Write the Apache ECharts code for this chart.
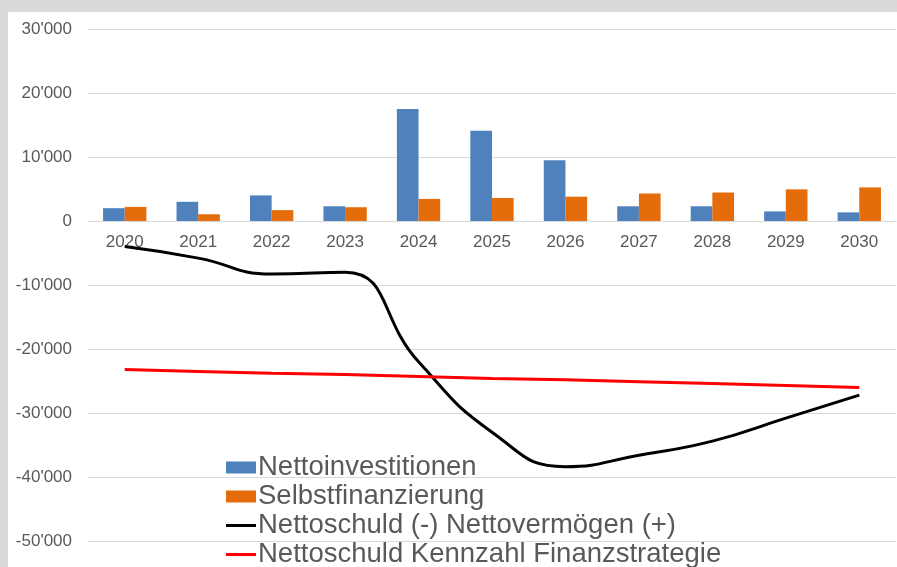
<!DOCTYPE html>
<html>
<head>
<meta charset="utf-8">
<script src="https://cdn.jsdelivr.net/npm/echarts@6/dist/echarts.min.js"></script>
<style>
  html, body { margin: 0; padding: 0; background: #d9d9d9; }
  #main { position: absolute; left: 8px; top: 12px; width: 889px; height: 555px; background: #fff; }
</style>
</head>
<body>
<div id="main"></div>
<script>
// Jahre
const categories = ['2020', '2021', '2022', '2023', '2024', '2025', '2026', '2027', '2028', '2029', '2030']
// Balken
const nettoinvestitionen = [2000, 3000, 4000, 2300, 17500, 14100, 9500, 2300, 2300, 1500, 1350]
const selbstfinanzierung = [2200, 1050, 1700, 2150, 3450, 3600, 3800, 4300, 4450, 4950, 5250]
// Linien
const nettoschuld = [-4000, -5800, -8300, -8000, -22000, -33000, -38400, -36600, -34400, -30800, -27200]
const kennzahl = [-23200, -23500, -23800, -24000, -24300, -24600, -24800, -25100, -25400, -25700, -26000]

const textColor = '#595959'
const fontFamily = '"Liberation Sans", Arial, sans-serif'
// Linien-Symbol in der Legende (3px hoch, mittig in 30x12)
const lineIcon = 'path://M0,0h0.01v0.01h-0.01z M0,4.5h30v3h-30z M29.99,11.99h0.01v0.01h-0.01z'

// Tausendertrennzeichen mit Apostroph
function fmt (v) {
  const s = String(Math.abs(v)).replace(/\B(?=(\d{3})+(?!\d))/g, "'")
  return (v < 0 ? '-' : '') + s
}

const myChart = echarts.init(document.getElementById('main'))

const options = {
  animation: false,
  textStyle: { fontFamily: fontFamily },
  grid: {
    left: 80,
    right: 1,
    top: 17,
    bottom: 26
  },
  legend: {
    orient: 'vertical',
    left: 218,
    top: 441,
    height: 130,
    padding: 0,
    itemWidth: 30,
    itemHeight: 12,
    itemGap: 0,
    textStyle: {
      color: textColor,
      fontSize: 27.5,
      lineHeight: 29,
      fontFamily: fontFamily,
      padding: [0, 0, 0, -3]
    },
    data: [
      { name: 'Nettoinvestitionen', icon: 'rect' },
      { name: 'Selbstfinanzierung', icon: 'rect' },
      { name: 'Nettoschuld (-) Nettovermögen (+)', icon: lineIcon },
      { name: 'Nettoschuld Kennzahl Finanzstrategie', icon: lineIcon }
    ]
  },
  xAxis: [
    {
      type: 'category',
      data: categories,
      // Achse mit Beschriftung auf der Nulllinie
      offset: -320,
      axisLine: { onZero: false, lineStyle: { color: '#d9d9d9', width: 1 } },
      axisTick: { show: false },
      axisLabel: { color: textColor, fontSize: 17, margin: 13 }
    }
  ],
  yAxis: [
    {
      type: 'value',
      min: -50000,
      max: 30000,
      interval: 10000,
      axisLine: { show: false },
      axisTick: { show: false },
      splitLine: { lineStyle: { color: '#d9d9d9', width: 1 } },
      axisLabel: { color: textColor, fontSize: 17, margin: 16, formatter: fmt }
    }
  ],
  series: [
    {
      name: 'Nettoinvestitionen',
      type: 'bar',
      data: nettoinvestitionen,
      barGap: '0%',
      barCategoryGap: '41%',
      itemStyle: { color: '#4f81bd' }
    },
    {
      name: 'Selbstfinanzierung',
      type: 'bar',
      data: selbstfinanzierung,
      itemStyle: { color: '#e46c0a' }
    },
    {
      name: 'Nettoschuld (-) Nettovermögen (+)',
      type: 'line',
      data: nettoschuld,
      smooth: 0.5,
      symbol: 'none',
      z: 5,
      lineStyle: { color: '#000', width: 3 },
      itemStyle: { color: '#000' }
    },
    {
      name: 'Nettoschuld Kennzahl Finanzstrategie',
      type: 'line',
      data: kennzahl,
      symbol: 'none',
      z: 5,
      lineStyle: { color: '#ff0000', width: 3 },
      itemStyle: { color: '#ff0000' }
    }
  ]
}

myChart.setOption(options)
</script>
</body>
</html>
